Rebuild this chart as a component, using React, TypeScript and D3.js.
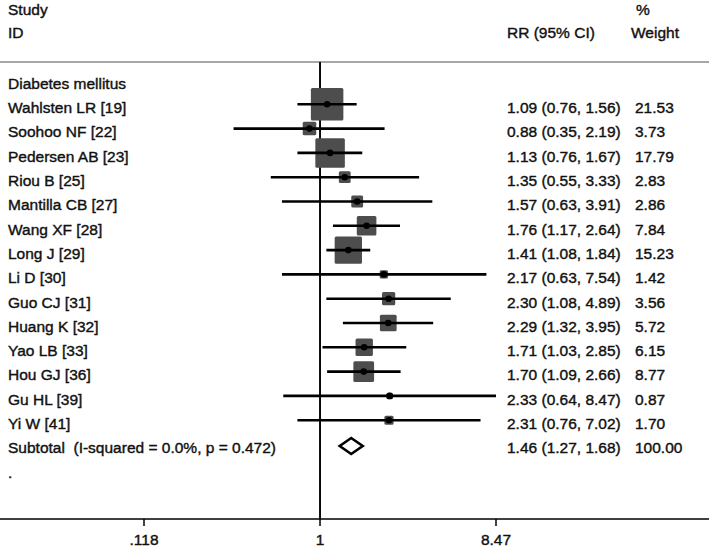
import React from "react";
import * as d3 from "d3";

const studies = [
  "Wahlsten LR [19]", "Soohoo NF [22]", "Pedersen AB [23]", "Riou B [25]",
  "Mantilla CB [27]", "Wang XF [28]", "Long J [29]", "Li D [30]",
  "Guo CJ [31]", "Huang K [32]", "Yao LB [33]", "Hou GJ [36]",
  "Gu HL [39]", "Yi W [41]",
];
const rr = [1.09, 0.88, 1.13, 1.35, 1.57, 1.76, 1.41, 2.17, 2.30, 2.29, 1.71, 1.70, 2.33, 2.31];
const lo = [0.76, 0.35, 0.76, 0.55, 0.63, 1.17, 1.08, 0.63, 1.08, 1.32, 1.03, 1.09, 0.64, 0.76];
const hi = [1.56, 2.19, 1.67, 3.33, 3.91, 2.64, 1.84, 7.54, 4.89, 3.95, 2.85, 2.66, 8.47, 7.02];
const weights = [21.53, 3.73, 17.79, 2.83, 2.86, 7.84, 15.23, 1.42, 3.56, 5.72, 6.15, 8.77, 0.87, 1.70];
const subtotal = { label: "Subtotal  (I-squared = 0.0%, p = 0.472)", rr: 1.46, lo: 1.27, hi: 1.68, weight: "100.00" };
const groupLabel = "Diabetes mellitus";
const tickValues = [0.118, 1, 8.47];
const tickLabels = [".118", "1", "8.47"];

const W = 709;
const H = 549;
const FONT = "'Liberation Sans', Arial, Helvetica, sans-serif";
const FS = 15.5;

export default function App() {
  const x = d3.scaleLog().domain([0.118, 8.47]).range([144, 496]);
  const y0 = 104.3;
  const step = 24.3;
  const rowY = (i: number) => y0 + step * i;
  const textOff = 8.8;
  const axisY = 519;
  const headerLineY = 62;
  const boxK = 7.0;
  const fmt = (v: number) => v.toFixed(2);
  const txt = { fontFamily: FONT, fontSize: FS, fill: "#111", stroke: "#111", strokeWidth: 0.4, style: { whiteSpace: "pre" as const } };

  const sY = rowY(studies.length);
  const dH = 8;

  return (
    <svg width={W} height={H} style={{ position: "absolute", left: 0, top: 0, background: "#fff" }}>
      <rect x={0} y={0} width={W} height={H} fill="#fff" />
      {/* headers */}
      <text x={8} y={15} {...txt}>Study</text>
      <text x={8} y={37.5} {...txt}>ID</text>
      <text x={507} y={37.5} {...txt}>RR (95% CI)</text>
      <text x={636} y={15} {...txt}>%</text>
      <text x={631} y={37.5} {...txt}>Weight</text>
      <line x1={0} x2={W} y1={headerLineY} y2={headerLineY} stroke="#8a8a8a" strokeWidth={1.5} />

      {/* reference line */}
      <line x1={x(1)} x2={x(1)} y1={headerLineY} y2={axisY} stroke="#000" strokeWidth={1.9} />

      <text x={8} y={rowY(-1) + textOff} {...txt}>{groupLabel}</text>

      {studies.map((s, i) => {
        const cy = rowY(i);
        const side = boxK * Math.sqrt(weights[i]);
        return (
          <g key={s}>
            <rect x={x(rr[i]) - side / 2} y={cy - side / 2} width={side} height={side} rx={1.5} fill="#4d4d4d" />
            <line x1={x(lo[i])} x2={x(hi[i])} y1={cy} y2={cy} stroke="#000" strokeWidth={2.6} />
            <circle cx={x(rr[i])} cy={cy} r={3.3} fill="#000" />
            <text x={8} y={cy + textOff} {...txt}>{s}</text>
            <text x={507} y={cy + textOff} {...txt}>{`${fmt(rr[i])} (${fmt(lo[i])}, ${fmt(hi[i])})`}</text>
            <text x={635} y={cy + textOff} {...txt}>{fmt(weights[i])}</text>
          </g>
        );
      })}

      {/* subtotal */}
      <path
        d={`M${x(subtotal.lo)},${sY + 1.5} L${x(subtotal.rr)},${sY + 1.5 - dH} L${x(subtotal.hi)},${sY + 1.5} L${x(subtotal.rr)},${sY + 1.5 + dH} Z`}
        fill="#fff" stroke="#000" strokeWidth={2.6} strokeLinejoin="miter"
      />
      <text x={8} y={sY + textOff} {...txt}>{subtotal.label}</text>
      <text x={507} y={sY + textOff} {...txt}>{`${fmt(subtotal.rr)} (${fmt(subtotal.lo)}, ${fmt(subtotal.hi)})`}</text>
      <text x={635} y={sY + textOff} {...txt}>{subtotal.weight}</text>
      <text x={8} y={rowY(studies.length + 1) + textOff} {...txt}>.</text>

      {/* axis */}
      <line x1={0} x2={W} y1={axisY} y2={axisY} stroke="#000" strokeWidth={1.5} />
      {tickValues.map((t, i) => (
        <g key={t}>
          <line x1={x(t)} x2={x(t)} y1={axisY} y2={axisY + 7} stroke="#000" strokeWidth={1.5} />
          <text x={x(t)} y={545} textAnchor="middle" {...txt}>{tickLabels[i]}</text>
        </g>
      ))}
    </svg>
  );
}
